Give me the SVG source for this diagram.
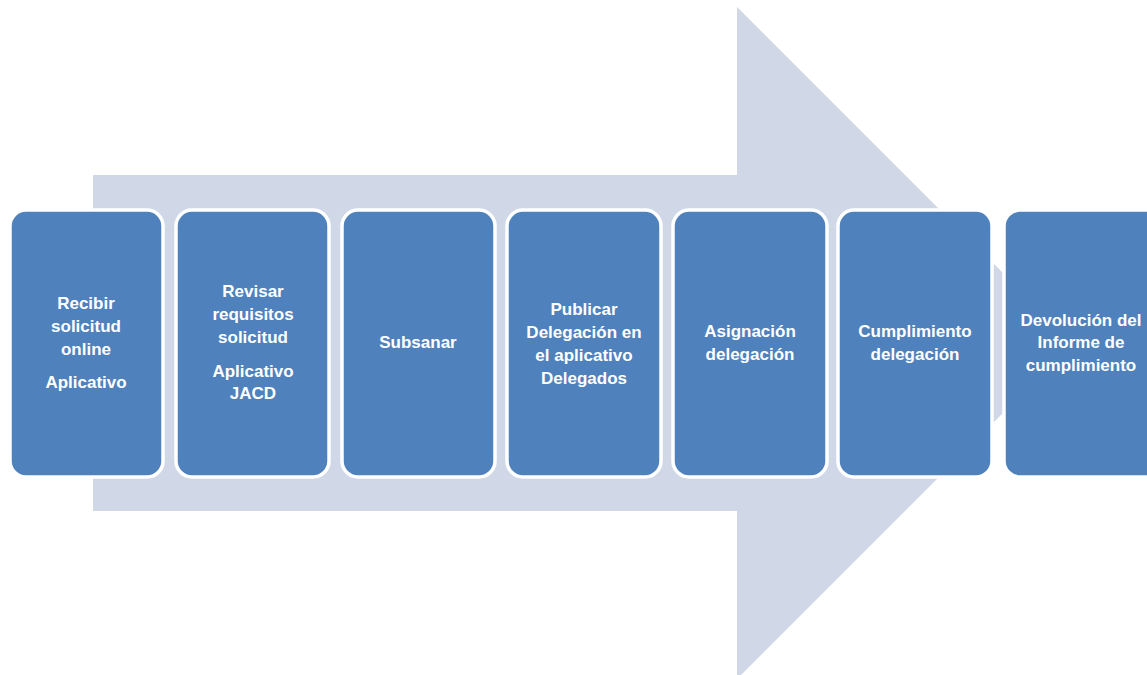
<svg xmlns="http://www.w3.org/2000/svg" width="1147" height="675" viewBox="0 0 1147 675">
<style>
.box{fill:#4F81BD;stroke:#FFFFFF;stroke-width:3.5}
.t{font-family:"Liberation Sans",Arial,sans-serif;font-weight:bold;font-size:17px;fill:#FFFFFF;text-anchor:middle}
</style>
<rect width="1147" height="675" fill="#FFFFFF"/>
<g id="arrow">
<polygon points="93,175 737,175 737,7 1073,343 737,679 737,511 93,511" fill="#D0D8E8"/>
</g>
<g id="connectors"></g>
<g id="n1">
<rect class="box" x="10" y="210" width="153" height="267" rx="16"/>
<text class="t" x="86" y="309">Recibir</text>
<text class="t" x="86" y="332">solicitud</text>
<text class="t" x="86" y="355">online</text>
<text class="t" x="86" y="388">Aplicativo</text>
</g>
<g id="n2">
<rect class="box" x="176" y="210" width="153" height="267" rx="16"/>
<text class="t" x="253" y="297">Revisar</text>
<text class="t" x="253" y="320">requisitos</text>
<text class="t" x="253" y="343">solicitud</text>
<text class="t" x="253" y="377">Aplicativo</text>
<text class="t" x="253" y="399">JACD</text>
</g>
<g id="n3">
<rect class="box" x="342" y="210" width="153" height="267" rx="16"/>
<text class="t" x="418" y="348">Subsanar</text>
</g>
<g id="n4">
<rect class="box" x="507" y="210" width="154" height="267" rx="16"/>
<text class="t" x="584" y="315">Publicar</text>
<text class="t" x="584" y="338">Delegación en</text>
<text class="t" x="584" y="361">el aplicativo</text>
<text class="t" x="584" y="384">Delegados</text>
</g>
<g id="n5">
<rect class="box" x="673" y="210" width="154" height="267" rx="16"/>
<text class="t" x="750" y="337">Asignación</text>
<text class="t" x="750" y="360">delegación</text>
</g>
<g id="n6">
<rect class="box" x="838" y="210" width="154" height="267" rx="16"/>
<text class="t" x="915" y="337">Cumplimiento</text>
<text class="t" x="915" y="360">delegación</text>
</g>
<g id="n7">
<rect class="box" x="1004" y="210" width="160" height="267" rx="16"/>
<text class="t" x="1081" y="326">Devolución del</text>
<text class="t" x="1081" y="348">Informe de</text>
<text class="t" x="1081" y="371">cumplimiento</text>
</g>
</svg>
